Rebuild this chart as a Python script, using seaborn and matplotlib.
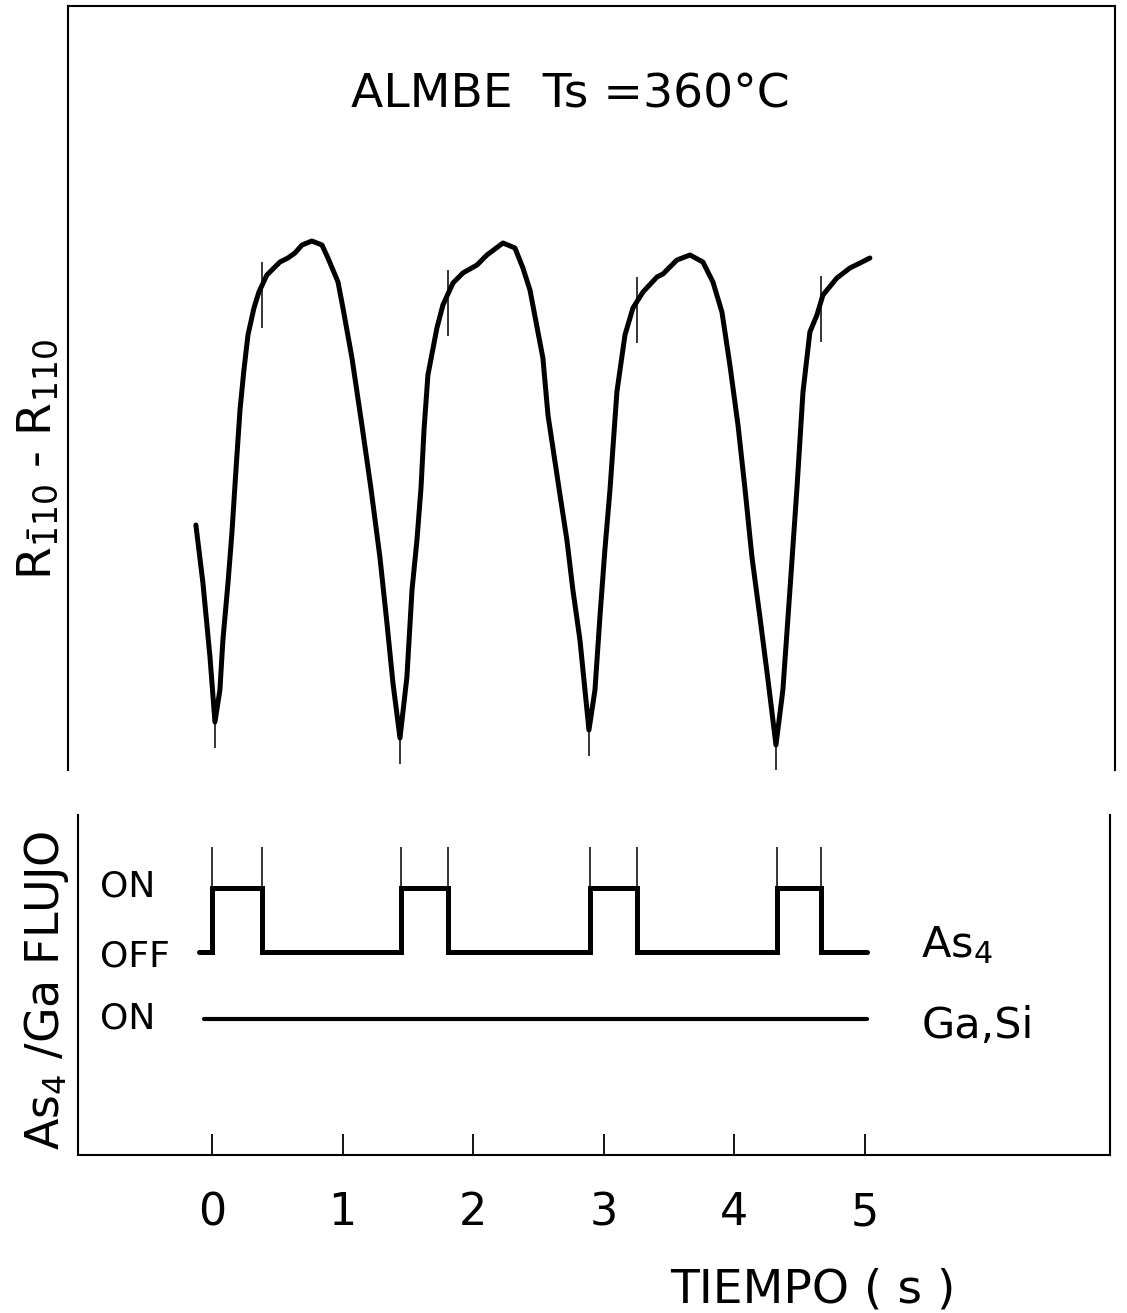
import numpy as np
import pandas as pd
import matplotlib
matplotlib.use("Agg")
import matplotlib.pyplot as plt
import seaborn as sns

# Reflectance difference R(-110) - R(110), arbitrary units, versus time (s)
time_s = [-0.123, -0.069, -0.015, 0.023, 0.061, 0.084, 0.123, 0.153, 0.184, 0.215,
          0.245, 0.276, 0.322, 0.360, 0.421, 0.521, 0.582, 0.636, 0.690, 0.766,
          0.843, 0.889, 0.966, 1.004, 1.073, 1.149, 1.218, 1.287, 1.341, 1.387,
          1.441, 1.494, 1.533, 1.571, 1.602, 1.625, 1.655, 1.724, 1.770, 1.847,
          1.923, 2.031, 2.107, 2.230, 2.322, 2.383, 2.437, 2.536, 2.575, 2.659,
          2.720, 2.766, 2.820, 2.866, 2.889, 2.935, 2.973, 3.011, 3.050, 3.103,
          3.165, 3.226, 3.303, 3.410, 3.456, 3.563, 3.663, 3.762, 3.839, 3.908,
          3.969, 4.031, 4.084, 4.138, 4.199, 4.261, 4.322, 4.375, 4.429, 4.483,
          4.529, 4.582, 4.636, 4.682, 4.789, 4.889, 4.966, 5.042]
reflectance = [24.5, 18.7, 11.3, 4.8, 8.0, 13.0, 18.7, 23.7, 30.0, 36.0,
               40.0, 43.5, 46.2, 47.8, 49.5, 50.8, 51.2, 51.7, 52.5, 52.9,
               52.5, 51.2, 48.8, 46.2, 41.2, 34.5, 28.2, 21.3, 14.7, 8.7,
               3.2, 9.3, 18.0, 23.0, 28.2, 34.0, 39.5, 44.2, 46.5, 48.7,
               49.7, 50.5, 51.5, 52.7, 52.2, 50.2, 48.0, 41.2, 35.5, 28.2,
               23.0, 18.0, 13.0, 7.0, 4.0, 8.0, 15.3, 22.0, 28.0, 37.8,
               43.5, 46.2, 47.8, 49.3, 49.6, 51.0, 51.5, 50.8, 48.8, 45.8,
               40.5, 34.5, 28.2, 21.3, 15.3, 9.0, 2.5, 8.0, 18.0, 28.2,
               37.8, 43.8, 45.5, 47.5, 49.2, 50.2, 50.7, 51.2]

# As4 shutter: intervals with the flux ON (s)
as4_on_start = [0.00, 1.45, 2.90, 4.33]
as4_on_end = [0.38, 1.81, 3.26, 4.67]
as4_trace_start = -0.10
ga_trace_start = -0.06
flux_trace_end = 5.02

# Flux levels in the lower panel
as4_on_level = 1.0
as4_off_level = 0.0
ga_on_level = -1.05

x_ticks = [0, 1, 2, 3, 4, 5]
x_tick_labels = ["0", "1", "2", "3", "4", "5"]

sns.set_style("white")
plt.rcParams["font.family"] = ["DejaVu Sans"]
plt.rcParams["mathtext.fontset"] = "dejavusans"
plt.rcParams["text.color"] = "black"
plt.rcParams["axes.labelcolor"] = "black"
plt.rcParams["xtick.color"] = "black"
plt.rcParams["xtick.labelcolor"] = "black"

W, H = 1127, 1313
fig = plt.figure(figsize=(W / 100, H / 100), dpi=100)


def box(left, top, right, bottom):
    return [left / W, 1 - bottom / H, (right - left) / W, (bottom - top) / H]


ax1 = fig.add_axes(box(68, 6, 1115, 770))
ax2 = fig.add_axes(box(78, 815, 1110, 1155))

# ---- upper panel: reflectance difference ----
trace = pd.DataFrame({"t": time_s, "r": reflectance})
sns.lineplot(data=trace, x="t", y="r", sort=False, estimator=None, color="black",
             lw=3.6, ax=ax1, solid_joinstyle="round", solid_capstyle="round")

t_arr = np.asarray(time_s)
r_arr = np.asarray(reflectance)
# shutter-close markers on the rising edges
for te in as4_on_end:
    rv = np.interp(te, t_arr, r_arr)
    ax1.vlines(te, rv - 4.2, rv + 2.4, color="black", lw=1.1)
# shutter-open markers under each minimum
for ts in as4_on_start:
    near = np.abs(t_arr - ts) < 0.15
    i = np.argmin(np.where(near, r_arr, np.inf))
    ax1.vlines(t_arr[i], r_arr[i] - 2.6, r_arr[i], color="black", lw=1.1)

ax1.set_xlim(-1.103, 6.920)
ax1.set_ylim(0, 76.4)
ax1.set_xticks([])
ax1.set_yticks([])
ax1.set_xlabel("")
ax1.set_ylabel("")
ax1.spines["bottom"].set_visible(False)
for s in ("left", "top", "right"):
    ax1.spines[s].set_color("black")
    ax1.spines[s].set_linewidth(1.5)

# ---- lower panel: shutter sequence ----
step_t = [as4_trace_start]
step_v = [as4_off_level]
for ts, te in zip(as4_on_start, as4_on_end):
    step_t += [ts, ts, te, te]
    step_v += [as4_off_level, as4_on_level, as4_on_level, as4_off_level]
step_t.append(flux_trace_end)
step_v.append(as4_off_level)
as4 = pd.DataFrame({"t": step_t, "flux": step_v})
sns.lineplot(data=as4, x="t", y="flux", sort=False, estimator=None, color="black",
             lw=3.6, ax=ax2, solid_joinstyle="miter", solid_capstyle="round")

ga = pd.DataFrame({"t": [ga_trace_start, flux_trace_end], "flux": [ga_on_level, ga_on_level]})
sns.lineplot(data=ga, x="t", y="flux", sort=False, estimator=None, color="black",
             lw=3.0, ax=ax2, solid_capstyle="round")

ax2.vlines(as4_on_start + as4_on_end, as4_on_level, 1.64, color="black", lw=1.1)

ax2.set_xlim(-1.027, 6.881)
ax2.set_ylim(-3.17, 2.14)
ax2.set_yticks([])
ax2.set_ylabel("")
ax2.set_xticks(x_ticks)
ax2.set_xticklabels(x_tick_labels)
ax2.tick_params(axis="x", direction="in", length=15, width=1.3, color="black",
                labelcolor="black", labelsize=32, pad=26, bottom=True)
ax2.spines["top"].set_visible(False)
for s in ("left", "bottom", "right"):
    ax2.spines[s].set_color("black")
    ax2.spines[s].set_linewidth(1.5)

ax2.set_xlabel("TIEMPO ( s )", fontsize=34, color="black")
ax2.xaxis.set_label_coords(0.712, -0.33)

# level labels
lab_x = -0.858
ax2.text(lab_x, 0.86, "ON", fontsize=26, va="baseline", ha="left")
ax2.text(lab_x, -0.23, "OFF", fontsize=26, va="baseline", ha="left")
ax2.text(lab_x, -1.19, "ON", fontsize=26, va="baseline", ha="left")
ax2.text(5.43, -0.08, r"As$_{4}$", fontsize=31, va="baseline", ha="left")
ax2.text(5.44, -1.34, "Ga,Si", fontsize=31, va="baseline", ha="left")

# titles and axis labels
fig.text(570 / W, 1 - 107 / H, "ALMBE  Ts =360°C", fontsize=34,
         ha="center", va="baseline")
fig.text(50 / W, 1 - 580 / H, r"R$_{\bar{1}10}$ - R$_{110}$", fontsize=34,
         rotation=90, rotation_mode="anchor", ha="left", va="baseline")
fig.text(59 / W, 1 - 1150 / H, r"As$_4$ /Ga FLUJO", fontsize=33,
         rotation=90, rotation_mode="anchor", ha="left", va="baseline")

fig.savefig("out.png", dpi=100, facecolor="white")
